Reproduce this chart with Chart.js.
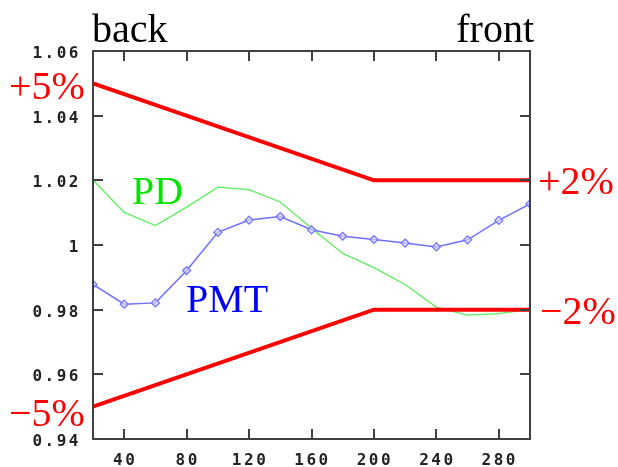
<!DOCTYPE html>
<html><head><meta charset="utf-8">
<script src="https://cdn.jsdelivr.net/npm/chart.js@4.4.1/dist/chart.umd.min.js"></script>
<style>
html,body{margin:0;padding:0;background:#fff;}
#wrap{position:relative;width:618px;height:467px;overflow:hidden;}
canvas{position:absolute;left:0;top:0;}
.t{position:absolute;font-family:"Liberation Serif","Times New Roman",serif;font-size:40px;line-height:40px;white-space:nowrap;}
</style></head><body>
<div id="wrap">
<canvas id="c" width="618" height="467"></canvas>
<div class="t" style="left:92px;top:9px;color:#000">back</div>
<div class="t" style="right:84px;top:9px;color:#000">front</div>
<div class="t" style="left:9px;top:66px;color:#ff0000">+5%</div>
<div class="t" style="left:9px;top:393px;color:#ff0000">−5%</div>
<div class="t" style="left:538px;top:161px;color:#ff0000">+2%</div>
<div class="t" style="left:540px;top:291px;color:#ff0000">−2%</div>
<div class="t" style="left:132px;top:171px;color:#00e400">PD</div>
<div class="t" style="left:186px;top:279px;color:#0000ff">PMT</div>
</div>
<script>
// Data
const positions = [20, 40, 60, 80, 100, 120, 140, 160, 180, 200, 220, 240, 260, 280, 300];
const pmtValues = [0.9878, 0.9817, 0.9821, 0.9921, 1.0039, 1.0077, 1.0088, 1.0047, 1.0027, 1.0017, 1.0006, 0.9994, 1.0016, 1.0076, 1.0127];
const pdValues  = [1.0201, 1.0101, 1.0060, 1.0117, 1.0179, 1.0171, 1.0133, 1.0052, 0.9974, 0.9930, 0.9878, 0.9808, 0.9783, 0.9788, 0.9801];
const limitX     = [20, 200, 300];
const upperLimit = [1.05, 1.02, 1.02];
const lowerLimit = [0.95, 0.98, 0.98];
const xTicks = [40, 80, 120, 160, 200, 240, 280];
const yTicks = [0.94, 0.96, 0.98, 1.00, 1.02, 1.04, 1.06];
const yTickLabels = ['0.94', '0.96', '0.98', '1', '1.02', '1.04', '1.06'];

const pts = (xs, ys) => xs.map((x, i) => ({x: x, y: ys[i]}));

const frameColor = '#404040';
const framePlugin = {
  id: 'frame',
  beforeDraw(chart) { chart.ctx.letterSpacing = '2.5px'; },
  afterDraw(chart) {
    const ctx = chart.ctx;
    ctx.letterSpacing = '0px';
    const a = chart.chartArea;
    const xs = chart.scales.x, ys = chart.scales.y;
    ctx.save();
    ctx.strokeStyle = frameColor;
    ctx.lineWidth = 2;
    ctx.strokeRect(a.left, a.top, a.right - a.left, a.bottom - a.top);
    ctx.beginPath();
    xTicks.forEach(v => {
      const px = Math.round(xs.getPixelForValue(v));
      ctx.moveTo(px, a.bottom); ctx.lineTo(px, a.bottom - 10);
      ctx.moveTo(px, a.top); ctx.lineTo(px, a.top + 10);
    });
    yTicks.forEach(v => {
      const py = Math.round(ys.getPixelForValue(v));
      ctx.moveTo(a.left, py); ctx.lineTo(a.left + 10, py);
      ctx.moveTo(a.right, py); ctx.lineTo(a.right - 10, py);
    });
    ctx.stroke();
    ctx.restore();
  }
};

const tickFont = {family: '"DejaVu Sans Mono", monospace', size: 16, weight: 'bold', lineHeight: 1};

new Chart(document.getElementById('c'), {
  type: 'line',
  data: {
    datasets: [
      {label: '+limit', data: pts(limitX, upperLimit), borderColor: '#ff0000', borderWidth: 4, pointRadius: 0, order: 0},
      {label: '-limit', data: pts(limitX, lowerLimit), borderColor: '#ff0000', borderWidth: 4, pointRadius: 0, order: 0},
      {label: 'PMT', data: pts(positions, pmtValues), borderColor: '#6f6fff', borderWidth: 1.5,
       pointStyle: 'rectRot', pointRadius: 4, pointBorderWidth: 1.2, pointBorderColor: '#6f6fff',
       pointBackgroundColor: 'rgba(210,210,255,0.7)', order: 1},
      {label: 'PD', data: pts(positions, pdValues), borderColor: '#5ced5c', borderWidth: 1.3, pointRadius: 0, order: 2}
    ]
  },
  options: {
    responsive: false,
    animation: false,
    devicePixelRatio: 1,
    layout: {padding: {top: 51, right: 88, left: 0, bottom: 0}},
    plugins: {legend: {display: false}, tooltip: {enabled: false}},
    elements: {line: {tension: 0}},
    scales: {
      x: {
        type: 'linear', min: 20, max: 300,
        afterBuildTicks: s => { s.ticks = xTicks.map(v => ({value: v})); },
        afterFit: s => { s.height = 28; },
        grid: {display: false}, border: {display: false},
        ticks: {font: tickFont, color: '#222', padding: 6, labelOffset: 1, maxRotation: 0, autoSkip: false}
      },
      y: {
        type: 'linear', min: 0.94, max: 1.06,
        afterBuildTicks: s => { s.ticks = yTicks.map(v => ({value: v})); },
        afterFit: s => { s.width = 93; },
        grid: {display: false}, border: {display: false},
        ticks: {font: tickFont, color: '#222', padding: 4, labelOffset: 3, autoSkip: false,
                callback: (v, i) => yTickLabels[i]}
      }
    }
  },
  plugins: [framePlugin]
});
</script>
</body></html>
